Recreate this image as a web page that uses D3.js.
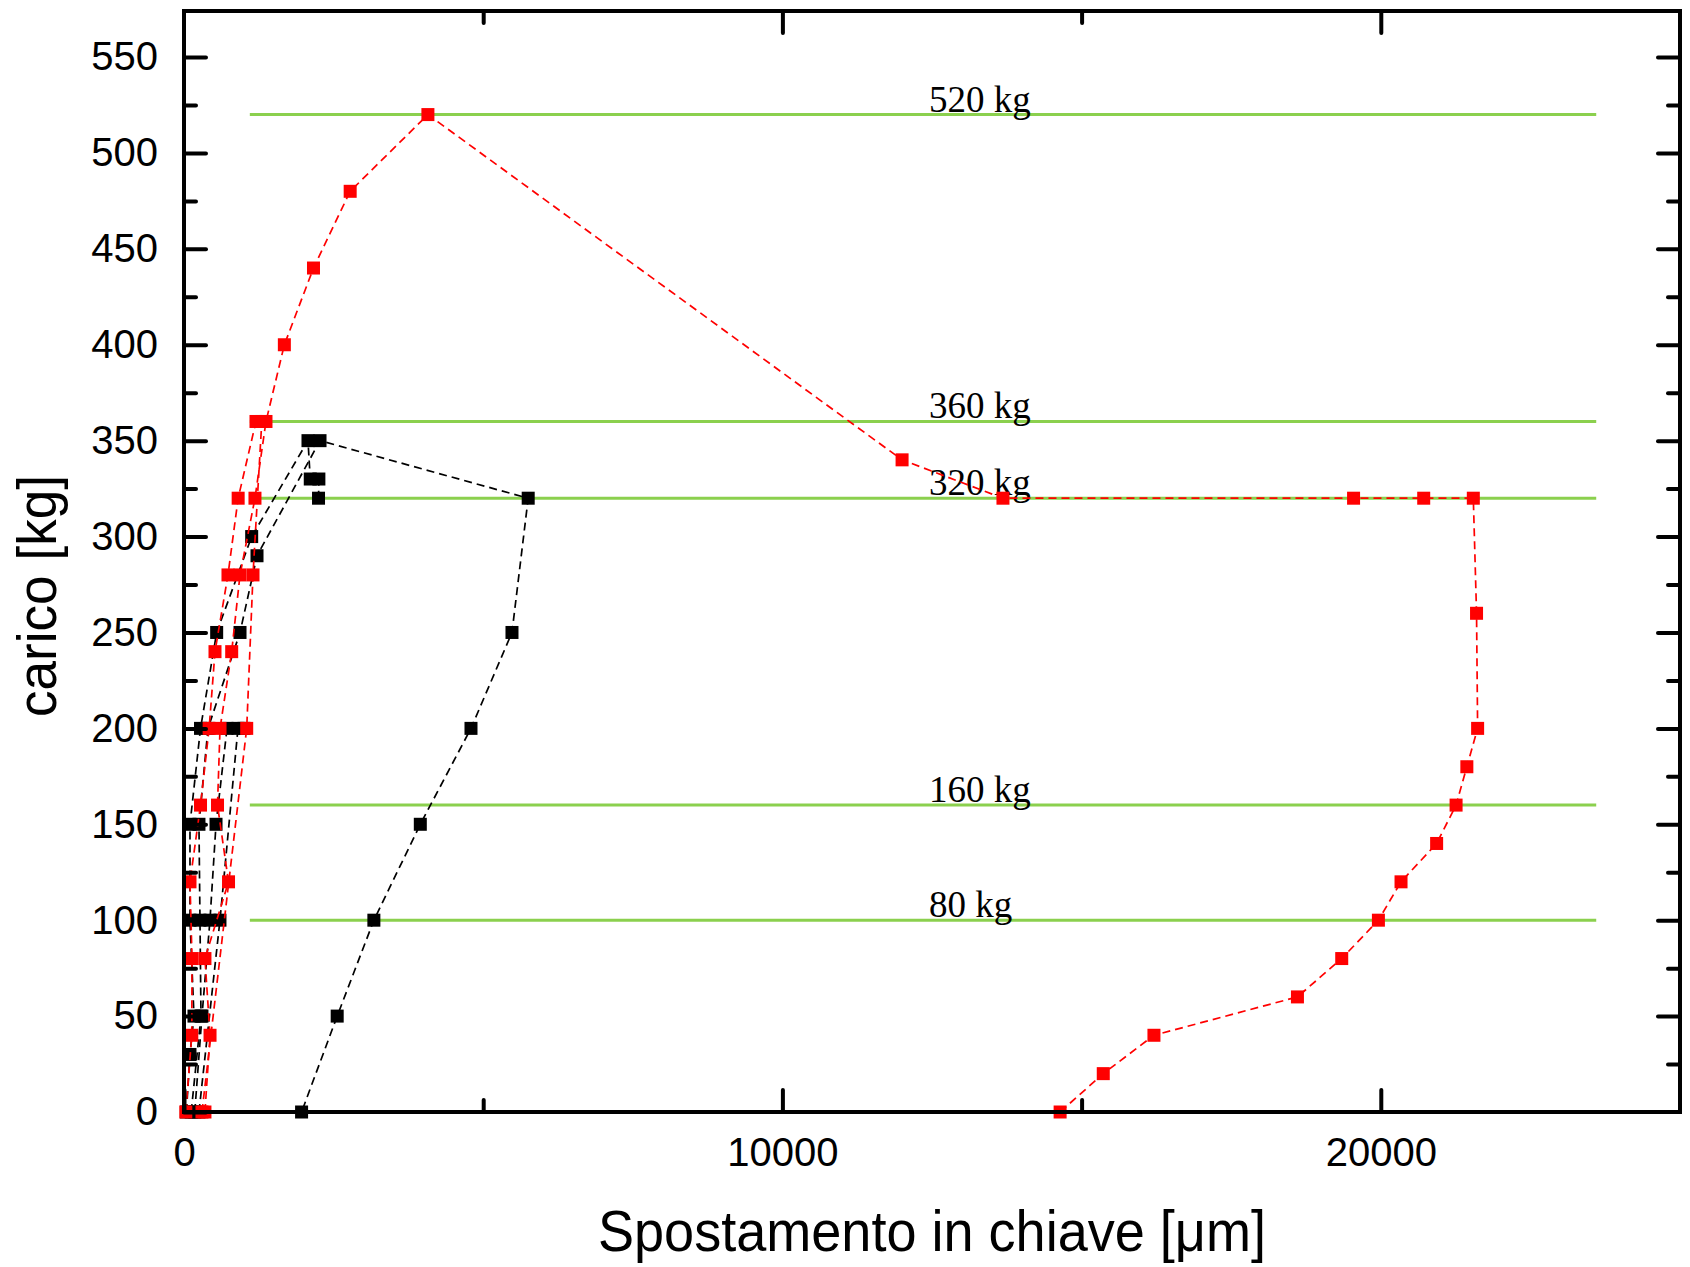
<!DOCTYPE html>
<html>
<head>
<meta charset="utf-8">
<script src="https://cdn.jsdelivr.net/npm/d3@7/dist/d3.min.js"></script>
<style>
  body { margin: 0; background: #fff; }
  svg { display: block; }
</style>
</head>
<body>
<div class="canvas"></div>
<script>
// Measured points: [displacement in µm, load in kg]
const blackA = [[40, 0], [100, 30], [167, 50], [100, 100], [100, 150], [276, 200], [546, 250], [1131, 300], [2072, 350], [2110, 330], [2254, 330], [2248, 320]];
const blackB = [[120, 0], [284, 50], [267, 100], [250, 150], [401, 200], [936, 250], [1220, 290], [2273, 350],
    [5752, 320], [5481, 250], [4796, 200], [3949, 150], [3173, 100], [2560, 50], [1965, 0]];
const blackC = [[180, 0], [300, 50], [434, 100], [535, 150], [719, 200]];
const blackD = [[250, 0], [601, 100], [902, 200], [1003, 200]];

const redA = [[30, 0], [130, 40], [134, 80], [100, 120], [276, 160], [420, 200], [518, 240], [735, 280], [905, 320], [1203, 360]];
const redB = [[350, 0], [435, 40], [350, 80], [744, 120], [560, 160], [602, 200], [797, 240], [936, 280], [1186, 320], [1370, 360],
    [1677, 400], [2164, 440], [2777, 480], [4076, 520], [12000, 340], [13686, 320], [19545, 320], [20717, 320], [21546, 320],
    [21600, 260], [21618, 200], [21438, 180], [21258, 160], [20933, 140], [20338, 120], [19960, 100], [19347, 80], [18607, 60],
    [16209, 40], [15362, 20], [14641, 0]];
const redC = [[300, 0], [1048, 200], [1153, 280], [1300, 360]];

const blackSeries = [blackA, blackB, blackC, blackD];
const redSeries = [redA, redB, redC];

// Green reference lines
const refLevels = [520, 360, 320, 160, 100];
const refLabels = ['520 kg', '360 kg', '320 kg', '160 kg', '80 kg'];
const refRange = [1100, 23600];
const refLabelX = 12450;

// Ticks
const xMajorTicks = [0, 10000, 20000];
const xMinorTicks = [5000, 15000];
const yMajorTicks = [0, 50, 100, 150, 200, 250, 300, 350, 400, 450, 500, 550];
const yMinorTicks = [25, 75, 125, 175, 225, 275, 325, 375, 425, 475, 525];

const chart = {
    width: 1690,
    height: 1267,
    left: 184,
    right: 1680,
    top: 11,
    bottom: 1112,
    svg: null,
    x: null,
    y: null,

    init: function() {
        chart.svg = d3.select('.canvas')
            .append('svg')
            .attr('width', chart.width)
            .attr('height', chart.height);

        chart.x = d3.scaleLinear().domain([0, 25000]).range([chart.left, chart.right]);
        chart.y = d3.scaleLinear().domain([0, 574]).range([chart.bottom, chart.top]);

        chart.drawRefLines();
        blackSeries.forEach(s => chart.drawSeries(s, '#000'));
        redSeries.forEach(s => chart.drawSeries(s, '#ff0000'));
        chart.drawAxes();
        chart.drawTitles();
    },

    drawRefLines: function() {
        const g = chart.svg.append('g');
        g.selectAll('line')
            .data(refLevels)
            .enter()
            .append('line')
                .attr('x1', chart.x(refRange[0]))
                .attr('x2', chart.x(refRange[1]))
                .attr('y1', d => chart.y(d))
                .attr('y2', d => chart.y(d))
                .attr('stroke', '#8bd04e')
                .attr('stroke-width', 3);

        g.selectAll('text')
            .data(refLevels)
            .enter()
            .append('text')
                .attr('x', chart.x(refLabelX))
                .attr('y', d => chart.y(d) - 3)
                .attr('font-family', '"Liberation Serif", "Times New Roman", serif')
                .attr('font-size', 37)
                .text((d, i) => refLabels[i]);
    },

    drawSeries: function(data, color) {
        const line = d3.line()
            .x(d => chart.x(d[0]))
            .y(d => chart.y(d[1]));

        const g = chart.svg.append('g');
        g.append('path')
            .attr('d', line(data))
            .attr('fill', 'none')
            .attr('stroke', color)
            .attr('stroke-width', 1.7)
            .attr('stroke-dasharray', '8,5');

        g.selectAll('rect')
            .data(data)
            .enter()
            .append('rect')
                .attr('x', d => chart.x(d[0]) - 6.5)
                .attr('y', d => chart.y(d[1]) - 6.5)
                .attr('width', 13)
                .attr('height', 13)
                .attr('fill', color);
    },

    addAxis: function(axisFn, scale, values, size, withLabels, transform) {
        const axis = axisFn(scale)
            .tickValues(values)
            .tickSizeInner(-size)
            .tickSizeOuter(0)
            .tickPadding(26)
            .tickFormat(withLabels ? d3.format('d') : '');

        const g = chart.svg.append('g')
            .attr('transform', transform)
            .call(axis);

        g.select('.domain').remove();
        g.selectAll('.tick line')
            .attr('stroke', '#000')
            .attr('stroke-width', 4)
            .attr('stroke-linecap', 'round');
        g.selectAll('.tick text')
            .attr('font-family', '"Liberation Sans", Arial, sans-serif')
            .attr('font-size', 40)
            .attr('fill', '#000');
    },

    drawAxes: function() {
        const bottomT = `translate(0, ${chart.bottom})`;
        const topT = `translate(0, ${chart.top})`;
        const leftT = `translate(${chart.left}, 0)`;
        const rightT = `translate(${chart.right}, 0)`;

        chart.addAxis(d3.axisBottom, chart.x, xMajorTicks, 22, true, bottomT);
        chart.addAxis(d3.axisBottom, chart.x, xMinorTicks, 12, false, bottomT);
        chart.addAxis(d3.axisTop, chart.x, xMajorTicks.slice(1), 22, false, topT);
        chart.addAxis(d3.axisTop, chart.x, xMinorTicks, 12, false, topT);

        chart.addAxis(d3.axisLeft, chart.y, yMajorTicks, 22, true, leftT);
        chart.addAxis(d3.axisLeft, chart.y, yMinorTicks, 12, false, leftT);
        chart.addAxis(d3.axisRight, chart.y, yMajorTicks.slice(1), 22, false, rightT);
        chart.addAxis(d3.axisRight, chart.y, yMinorTicks, 12, false, rightT);

        // Frame
        chart.svg.append('rect')
            .attr('x', chart.left)
            .attr('y', chart.top)
            .attr('width', chart.right - chart.left)
            .attr('height', chart.bottom - chart.top)
            .attr('fill', 'none')
            .attr('stroke', '#000')
            .attr('stroke-width', 4);
    },

    drawTitles: function() {
        chart.svg.append('text')
            .attr('x', (chart.left + chart.right) / 2)
            .attr('y', 1251)
            .attr('text-anchor', 'middle')
            .attr('font-family', '"Liberation Sans", Arial, sans-serif')
            .attr('font-size', 57)
            .attr('textLength', 668)
            .attr('lengthAdjust', 'spacingAndGlyphs')
            .text('Spostamento in chiave [\u03bcm]');

        chart.svg.append('text')
            .attr('transform', 'translate(56, 596) rotate(-90)')
            .attr('text-anchor', 'middle')
            .attr('font-family', '"Liberation Sans", Arial, sans-serif')
            .attr('font-size', 56)
            .attr('textLength', 242)
            .attr('lengthAdjust', 'spacingAndGlyphs')
            .text('carico [kg]');
    }
};

document.addEventListener('DOMContentLoaded', chart.init);
</script>
</body>
</html>
